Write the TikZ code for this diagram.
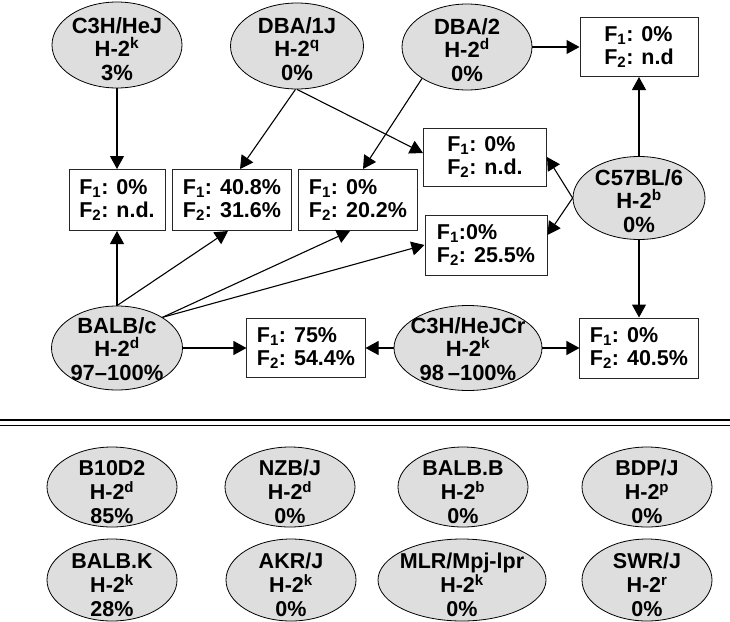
\documentclass[tikz,border=0pt]{standalone}
\usepackage{fontspec}
\setmainfont{Liberation Sans}
\usepackage{tikz}
\usetikzlibrary{arrows.meta,shapes}
\usetikzlibrary{positioning}
\tikzset{
    strain/.style={ellipse, draw=black, line width=0.8pt, fill=black!13, inner sep=0pt,
        minimum width=130pt, minimum height=86pt, font=\bfseries\fontsize{22}{23.5}\selectfont},
    smallstrain/.style={strain, minimum height=80pt, font=\bfseries\fontsize{21.5}{24}\selectfont},
    result/.style={rectangle, draw=black!85, line width=1pt, fill=white, align=left,
        inner xsep=10pt, minimum height=60pt, font=\bfseries\fontsize{21.5}{22.5}\selectfont},
    link/.style={draw=black, line width=1.1pt, -{Triangle[length=13pt,width=14pt]}},
}
% strain name, H-2 haplotype, incidence
\newcommand{\strainlbl}[4][-11pt]{\makebox[0pt]{\raisebox{#1}[0pt][0pt]{%
    \begin{tabular}{@{}c@{}}#2\\H-2\smash{\textsuperscript{#3}}\\#4\end{tabular}}}}
\newcommand{\Fone}{F\textsubscript{1}}
\newcommand{\Ftwo}{F\textsubscript{2}}

\begin{document}
\begin{tikzpicture}[x=1pt, y=-1pt]
	\useasboundingbox (0,0) rectangle (730,621);
	% parental strains
	\node[strain] (hej) at (117,45) {\strainlbl[-12pt]{C3H/HeJ}{k}{3\%}};
	\node[strain, minimum width=133pt] (dbaone) at (297,46) {\strainlbl{DBA/1J}{q}{0\%}};
	\node[strain] (dbatwo) at (467,47) {\strainlbl{DBA/2}{d}{0\%}};
	\node[strain, minimum width=132pt, minimum height=83pt] (bsix) at (639,198) {\strainlbl{C57BL/6}{b}{0\%}};
	\node[strain, minimum width=131pt, minimum height=84pt] (balbc) at (117,348) {\strainlbl[-9pt]{BALB/c}{d}{97--100\%}};
	\node[strain, minimum width=148pt, minimum height=85pt] (hejcr) at (468,348) {\strainlbl[-9pt]{C3H/HeJCr}{k}{98\,--100\%}};
	% crosses
	\node[result, minimum width=118pt, minimum height=59pt] (ndtop) at (639,47) {\Fone: 0\%\\\Ftwo: n.d};
	\node[result, minimum width=123pt, minimum height=58pt] (ndmid) at (485,157) {\Fone: 0\%\\\Ftwo: n.d.};
	\node[result, minimum width=122pt] (fe) at (486,245) {\Fone:0\%\\\Ftwo: 25.5\%};
	\node[result, minimum width=96pt, minimum height=61pt] (fa) at (117,200) {\Fone: 0\%\\\Ftwo: n.d.};
	\node[result, minimum width=117pt, minimum height=61pt] (fb) at (232,200) {\Fone: 40.8\%\\\Ftwo: 31.6\%};
	\node[result, minimum width=117pt, minimum height=61pt] (fc) at (358,200) {\Fone: 0\%\\\Ftwo: 20.2\%};
	\node[result, minimum width=111pt, minimum height=59pt] (fd) at (306,348) {\Fone: 75\%\\\Ftwo: 54.4\%};
	\node[result, minimum width=118pt] (ff) at (639,348) {\Fone: 0\%\\\Ftwo: 40.5\%};

	\draw[link] (hej.south) -- (fa.north);
	\draw[link] (dbaone.268) -- ([xshift=8pt]fb.north);
	\draw[link] (dbaone.south) -- ([yshift=4pt]ndmid.west);
	\draw[link] (dbatwo.215) -- ([xshift=5pt]fc.north);
	\draw[link] (dbatwo) -- (ndtop);
	\draw[link] (bsix) -- (ndtop);
	\draw[link] (bsix.west) -- (ndmid.east);
	\draw[link] (bsix.west) -- ([yshift=10pt]fe.east);
	\draw[link] (bsix) -- (ff);
	\draw[link] (hejcr) -- (fd);
	\draw[link] (hejcr) -- (ff);
	\draw[link] (balbc) -- (fd);
	\draw[link] (balbc.north) -- (fa.south);
	\draw[link] (balbc.north) -- ([xshift=-4pt]fb.south);
	\draw[link] (balbc.34) -- ([xshift=-8pt]fc.south);
	\draw[link] (balbc.34) -- (fe.west);

	% divider
	\draw[line width=1.8pt] (0,420) -- (730,420);
	\draw[line width=1.1pt] (0,425.5) -- (730,425.5);

	% strains not crossed
	\node[smallstrain] (bten) at (112,487) {\strainlbl[-13pt]{B10D2}{d}{85\%}};
	\node[smallstrain] (nzb) at (290,487) {\strainlbl[-13pt]{NZB/J}{d}{0\%}};
	\node[smallstrain] (balbb) at (463,487) {\strainlbl[-13pt]{BALB.B}{b}{0\%}};
	\node[smallstrain] (bdp) at (647,487) {\strainlbl[-13pt]{BDP/J}{p}{0\%}};
	\node[smallstrain, minimum height=82pt] (balbk) at (112,580) {\strainlbl[-13pt]{BALB.K}{k}{28\%}};
	\node[smallstrain, minimum height=82pt] (akr) at (291,580) {\strainlbl[-13pt]{AKR/J}{k}{0\%}};
	\node[smallstrain, minimum width=168pt, minimum height=82pt] (mlr) at (462,580) {\strainlbl[-13pt]{MLR/Mpj-lpr}{k}{0\%}};
	\node[smallstrain, minimum height=82pt] (swr) at (647,580) {\strainlbl[-13pt]{SWR/J}{r}{0\%}};
\end{tikzpicture}
\end{document}
